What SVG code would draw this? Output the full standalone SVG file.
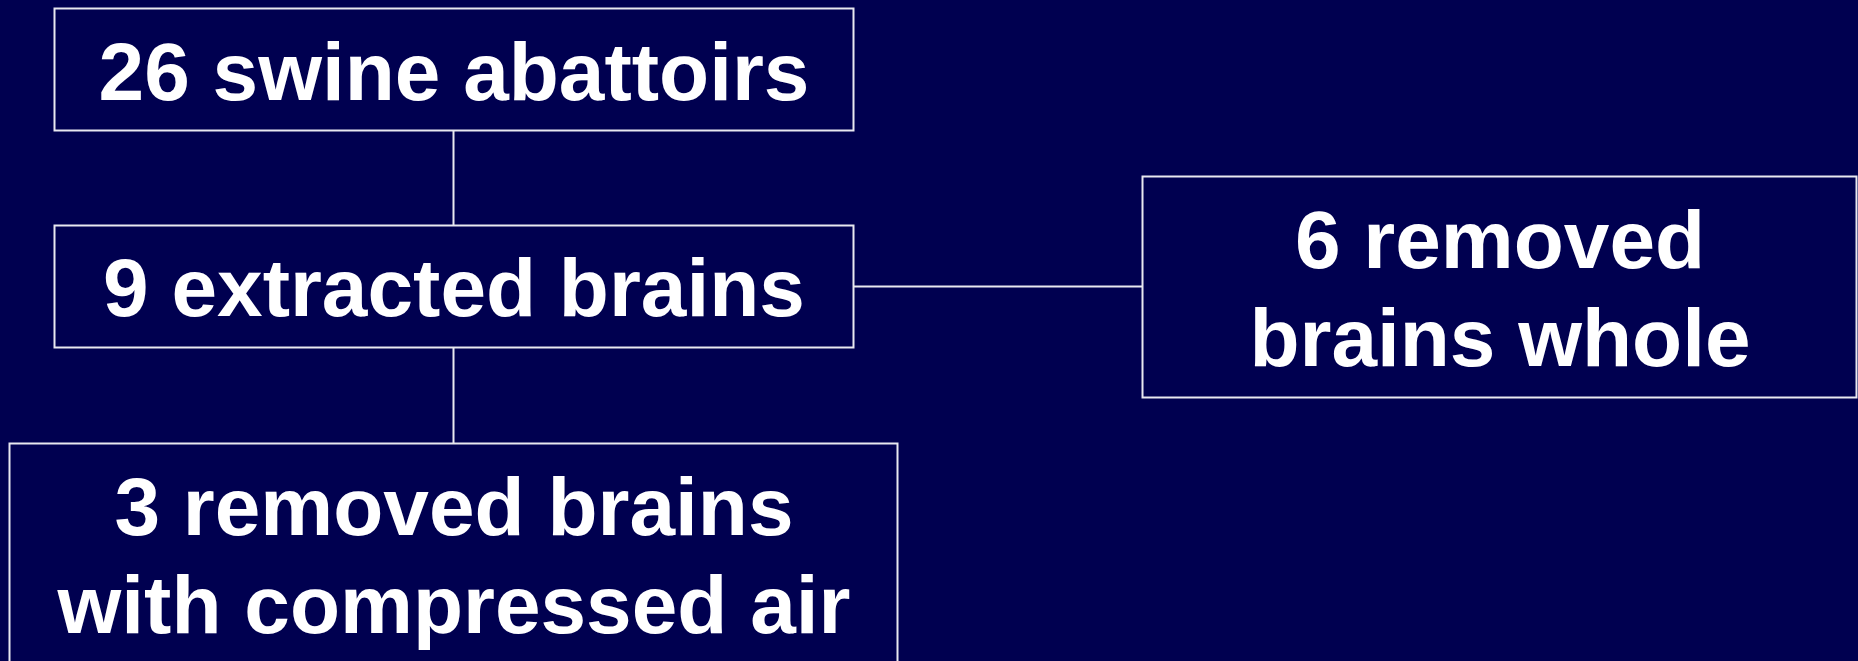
<svg xmlns="http://www.w3.org/2000/svg" width="1858" height="661" viewBox="0 0 1858 661">
<style>
.box{fill:#000050;stroke:#e8e8f0;stroke-width:2}
.conn{stroke:#e8e8f0;stroke-width:2;fill:none}
.t{font-family:"Liberation Sans",Arial,sans-serif;font-weight:bold;font-size:82px;fill:#ffffff;text-anchor:middle}
</style>
<rect x="0" y="0" width="1858" height="661" fill="#000050"/>
<g id="connectors">
<line class="conn" x1="453.5" y1="130.5" x2="453.5" y2="225.5"/>
<line class="conn" x1="453.5" y1="347.5" x2="453.5" y2="443.5"/>
<line class="conn" x1="853.5" y1="286.5" x2="1142.5" y2="286.5"/>
</g>
<g id="node-abattoirs">
<rect class="box" x="54.5" y="8.5" width="799" height="122"/>
<text class="t" x="454" y="100">26 swine abattoirs</text>
</g>
<g id="node-extracted">
<rect class="box" x="54.5" y="225.5" width="799" height="122"/>
<text class="t" x="454" y="316">9 extracted brains</text>
</g>
<g id="node-compressed">
<rect class="box" x="9.5" y="443.5" width="888" height="240"/>
<text class="t" x="454" y="535">3 removed brains</text>
<text class="t" x="454" y="633">with compressed air</text>
</g>
<g id="node-whole">
<rect class="box" x="1142.5" y="176.5" width="714" height="221"/>
<text class="t" x="1500" y="268">6 removed</text>
<text class="t" x="1500" y="366">brains whole</text>
</g>
</svg>
